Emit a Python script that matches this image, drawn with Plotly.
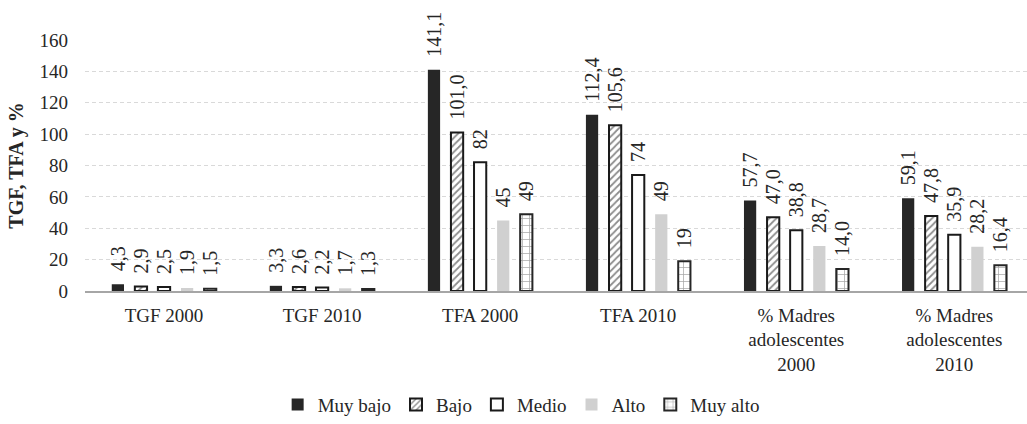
import plotly.graph_objects as go

# Indicators per group
categories = [
    "TGF 2000",
    "TGF 2010",
    "TFA 2000",
    "TFA 2010",
    "% Madres<br>adolescentes<br>2000",
    "% Madres<br>adolescentes<br>2010",
]

# Values per level (ints are shown without decimals, floats with one)
muy_bajo = [4.3, 3.3, 141.1, 112.4, 57.7, 59.1]
bajo = [2.9, 2.6, 101.0, 105.6, 47.0, 47.8]
medio = [2.5, 2.2, 82, 74, 38.8, 35.9]
alto = [1.9, 1.7, 45, 49, 28.7, 28.2]
muy_alto = [1.5, 1.3, 49, 19, 14.0, 16.4]

series_names = ["Muy bajo", "Bajo", "Medio", "Alto", "Muy alto"]
y_ticks = [0, 20, 40, 60, 80, 100, 120, 140, 160]

FONT = "Liberation Serif"
TXT = "#262626"
PAD = "\u00a0\u00a0"  # small gap between bar top and its value label


def fmt(v):
    if isinstance(v, int):
        return str(v)
    return f"{v:.1f}".replace(".", ",")


styles = {
    "Muy bajo": dict(color="#262626", line=dict(width=0)),
    "Bajo": dict(
        color="white",
        line=dict(color="#1a1a1a", width=2),
        pattern=dict(shape="/", fgcolor="#1a1a1a", bgcolor="white", size=5, solidity=0.35),
    ),
    "Medio": dict(color="white", line=dict(color="#1a1a1a", width=2)),
    "Alto": dict(color="#d0d0d0", line=dict(width=0)),
    "Muy alto": dict(
        color="white",
        line=dict(color="#262626", width=2),
        pattern=dict(shape="+", fgcolor="#4d4d4d", bgcolor="white", size=7, solidity=0.2),
    ),
}

fig = go.Figure()
for name, vals in zip(series_names, [muy_bajo, bajo, medio, alto, muy_alto]):
    fig.add_trace(
        go.Bar(
            name=name,
            x=categories,
            y=vals,
            text=[PAD + fmt(v) for v in vals],
            textposition="outside",
            textangle=-90,
            constraintext="none",
            cliponaxis=False,
            textfont=dict(family=FONT, size=20, color=TXT),
            marker=styles[name],
        )
    )

fig.update_layout(
    width=1027,
    height=424,
    margin=dict(l=85, r=0, t=40, b=131),
    paper_bgcolor="white",
    plot_bgcolor="white",
    barmode="group",
    bargap=0.27,
    bargroupgap=0.47,
    font=dict(family=FONT, size=19, color=TXT),
    showlegend=True,
    legend=dict(
        orientation="h",
        x=0.463,
        xanchor="center",
        y=-0.453,
        yanchor="middle",
        font=dict(family=FONT, size=19, color=TXT),
        itemwidth=30,
        tracegroupgap=0,
    ),
)

fig.update_xaxes(
    range=[-0.5, 5.46],
    showline=True,
    linecolor="#a6a6a6",
    linewidth=1.5,
    showgrid=False,
    ticks="",
    ticklabelstandoff=6,
    tickfont=dict(family=FONT, size=19, color=TXT),
)

fig.update_yaxes(
    range=[0, 160],
    tickvals=y_ticks,
    showgrid=True,
    gridcolor="#d9d9d9",
    gridwidth=1,
    griddash="4px,3px",
    zeroline=False,
    showline=False,
    ticks="",
    ticklabelstandoff=16,
    tickfont=dict(family=FONT, size=19, color=TXT),
    title=dict(text="<b>TGF, TFA y %</b>", font=dict(family=FONT, size=20, color=TXT), standoff=10),
)

fig.write_html("out.html")
